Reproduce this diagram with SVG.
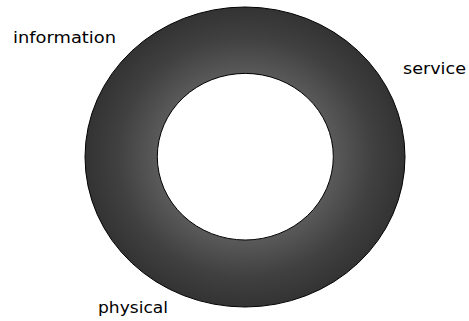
<svg xmlns="http://www.w3.org/2000/svg" width="469" height="321" viewBox="0 0 469 321">
<defs>
<radialGradient id="ring" cx="0.5" cy="0.5" r="0.5">
<stop offset="0" stop-color="#6a6a6a"/>
<stop offset="0.55" stop-color="#5a5a5a"/>
<stop offset="0.8" stop-color="#404040"/>
<stop offset="1" stop-color="#333333"/>
</radialGradient>
<style>
.lbl{font-family:"DejaVu Sans","Liberation Sans",sans-serif;font-size:16px;fill:#000}
</style>
</defs>
<rect width="469" height="321" fill="#fff"/>
<g id="ring-node">
<ellipse cx="245" cy="157" rx="160" ry="150" fill="url(#ring)" stroke="#000" stroke-width="1"/>
<ellipse cx="245.3" cy="156.7" rx="88" ry="83.3" fill="#fff" stroke="#000" stroke-width="1"/>
</g>
<g id="label-information"><text class="lbl" x="13" y="43" textLength="103" lengthAdjust="spacingAndGlyphs">information</text></g>
<g id="label-service"><text class="lbl" x="403" y="74" textLength="63" lengthAdjust="spacingAndGlyphs">service</text></g>
<g id="label-physical"><text class="lbl" x="98" y="313" textLength="70" lengthAdjust="spacingAndGlyphs">physical</text></g>
</svg>
